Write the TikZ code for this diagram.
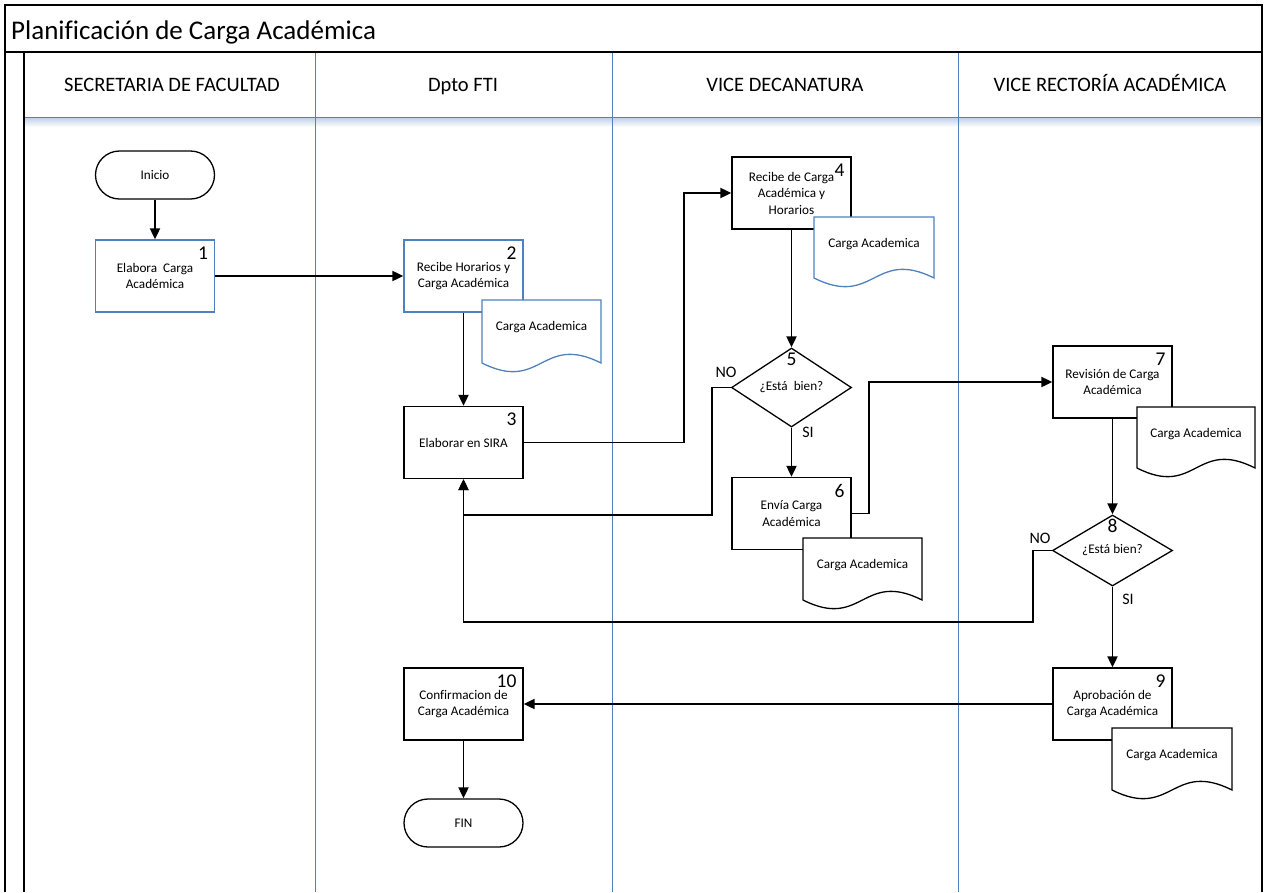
\documentclass[tikz,border=0pt]{standalone}
\usepackage{fontspec}
\setmainfont{Carlito}[Ligatures=CommonOff]
\usetikzlibrary{arrows.meta,shapes.geometric,calc}
\definecolor{lane}{RGB}{79,129,189}

% document symbol: name, left, top, right, corner height, border colour
\newcommand\cargadoc[6]{%
  \draw[docline, draw=#6] (#2,#3) -- (#4,#3) -- (#4,#5)
     .. controls ({#2+0.5*(#4-#2)},{#5-30}) and ({#2+0.5*(#4-#2)},{#5+30}) .. (#2,#5) -- cycle;
  \node (#1) at ({(#2+#4)/2},{#3+27}) {Carga Academica};}

\begin{document}
\begin{tikzpicture}[x=1pt,y=-1pt,
  every node/.style={font=\fontsize{13.2}{16.5}\selectfont, align=center, inner sep=0pt},
  proc/.style={draw=black, line width=1.3pt, fill=white, minimum width=119pt, minimum height=72pt},
  procb/.style={proc, draw=lane},
  term/.style={draw=black, line width=1.3pt, fill=white, minimum width=119pt, minimum height=48pt, rounded corners=24pt},
  dec/.style={diamond, draw=black, line width=1.3pt, fill=white, minimum width=120pt, aspect=1.5},
  num/.style={font=\fontsize{19.5}{19.5}\selectfont},
  hdr/.style={font=\fontsize{20.5}{20.5}\selectfont, anchor=base},
  yn/.style={font=\fontsize{16}{16}\selectfont},
  flow/.style={line width=1.9pt, -{Triangle[length=11pt,width=10pt]}},
  docline/.style={line width=1.3pt, fill=white},
]
\useasboundingbox (0,0) rectangle (1267,892);

% pool frame and lanes
\shade[top color=lane!35, bottom color=white] (24,118) rectangle (1261,127);
\draw[lane, line width=1pt] (24,117) -- (1262,117);
\foreach \lx in {315,612,958} \draw[lane, line width=1pt] (\lx,52) -- (\lx,892);
\draw[line width=1.3pt] (5,892) -- (5,5) -- (1262,5) -- (1262,892);
\draw[line width=1.3pt] (5,52) -- (1262,52);
\draw[line width=1.3pt] (24,52) -- (24,892);

\node[anchor=base west, font=\fontsize{27}{27}\selectfont] (title) at (11,39) {Planificación de Carga Académica};
\node[hdr] (h1) at (172,91) {SECRETARIA DE FACULTAD};
\node[hdr] (h2) at (463,91) {Dpto FTI};
\node[hdr] (h3) at (785,91) {VICE DECANATURA};
\node[hdr] (h4) at (1110,91) {VICE RECTORÍA ACADÉMICA};

% flow steps
\node[term] (ini) at (155,175) {Inicio};
\node[procb] (b1) at (155,276) {Elabora\ \ Carga\\Académica};
\node[procb] (b2) at (463.5,276) {Recibe Horarios y\\Carga Académica};
\node[proc] (b3) at (463.5,442.5) {Elaborar en SIRA};
\node[proc] (b4) at (791.5,193) {Recibe de Carga\\Académica y\\Horarios};
\node[dec, minimum height=79pt] (d5) at (791.5,387.5) {¿Está\ \ bien?};
\node[proc] (b6) at (791.5,513.5) {Envía Carga\\Académica};
\node[proc] (b7) at (1112.5,382) {Revisión de Carga\\Académica};
\node[dec, minimum height=71pt] (d8) at (1112.5,550.5) {¿Está bien?};
\node[proc] (b9) at (1112.5,704) {Aprobación de\\Carga Académica};
\node[proc] (b10) at (463.5,704) {Confirmacion de\\Carga Académica};
\node[term] (fin) at (463.5,823) {FIN};

% step numbers
\node[num, anchor=north east] (n1) at ([xshift=-7pt,yshift=-7pt]b1.north east) {1};
\node[num, anchor=north east] (n2) at ([xshift=-7pt,yshift=-7pt]b2.north east) {2};
\node[num, anchor=north east] (n3) at ([xshift=-7pt,yshift=-7pt]b3.north east) {3};
\node[num, anchor=north east] (n4) at ([xshift=-7pt,yshift=-7pt]b4.north east) {4};
\node[num, anchor=north] (n5) at ([yshift=-5pt]d5.north) {5};
\node[num, anchor=north east] (n6) at ([xshift=-7pt,yshift=-7pt]b6.north east) {6};
\node[num, anchor=north east] (n7) at ([xshift=-7pt,yshift=-7pt]b7.north east) {7};
\node[num, anchor=north] (n8) at ([yshift=-5pt]d8.north) {8};
\node[num, anchor=north east] (n9) at ([xshift=-7pt,yshift=-7pt]b9.north east) {9};
\node[num, anchor=north east] (n10) at ([xshift=-7pt,yshift=-7pt]b10.north east) {10};

% documents
\cargadoc{doc2}{482}{300}{601}{363}{lane}
\cargadoc{doc4}{814}{217}{934}{278}{lane}
\cargadoc{doc6}{803}{538}{922}{600}{black}
\cargadoc{doc7}{1137}{407}{1255}{468}{black}
\cargadoc{doc9}{1112}{728}{1232}{790}{black}

% connectors
\draw[flow] (ini) -- (b1);
\draw[flow] (b1) -- (b2);
\draw[flow] (b2) -- (b3);
\draw[flow] (b3.east) -- ++(160,0) |- (b4.west);
\draw[flow] (b4) -- (d5);
\draw[flow] (d5) -- (b6);
\draw[flow] (d5.west) -- ++(-19,0) |- ([yshift=-36pt]b3.south) -- (b3.south);
\draw[flow] (b6.east) -- ++(17,0) |- (b7.west);
\draw[flow] (b7) -- (d8);
\draw[flow] (d8) -- (b9);
\draw[flow] (d8.west) -- ++(-19,0) |- ([yshift=-143pt]b3.south) -- (b3.south);
\draw[flow] (b9) -- (b10);
\draw[flow] (b10) -- (fin);

% decision labels
\node[yn] (no5) at (726,372) {NO};
\node[yn] (si5) at (808,432) {SI};
\node[yn] (no8) at (1040,538) {NO};
\node[yn] (si8) at (1128,599) {SI};
\end{tikzpicture}
\end{document}
